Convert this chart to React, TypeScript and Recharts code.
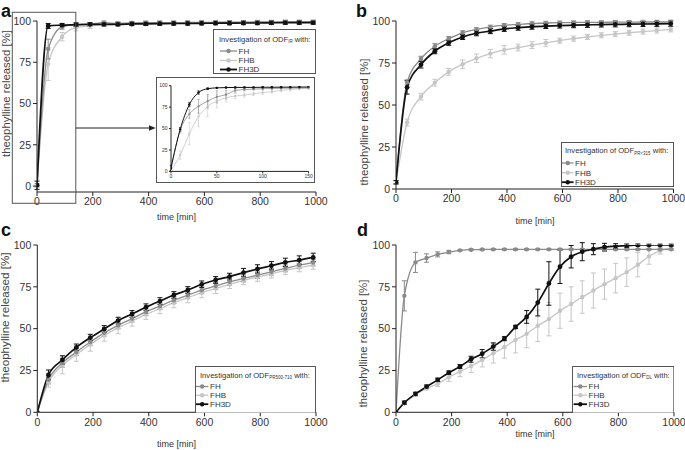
import React from 'react';
import { LineChart, Line, XAxis, YAxis, ErrorBar, Legend } from 'recharts';

const FONT = '"Liberation Sans", Arial, Helvetica, sans-serif';
const C_FH = '#8a8a8a';
const C_FHB = '#c6c6c6';
const C_3D = '#111111';

const xTicks = [0, 200, 400, 600, 800, 1000];
const yTicks = [0, 25, 50, 75, 100];
const insetXTicks = [0, 50, 100, 150];

// ---- Panel a (ODF IR) ----
const timesA = [0, 40, 90, 140, 190, 240, 290, 340, 390, 440, 490, 540, 590, 640, 690, 740, 790, 840, 890, 940, 990];
const aFH = [0.5, 83, 96.5, 97.8, 98, 99, 98.5, 98.8, 99, 99, 99, 99.1, 99.2, 99.2, 99.3, 99.3, 99.4, 99.4, 99.5, 99.5, 99.5];
const aFHe = [1, 6, 1.5, 1, 1, 1, 1, 1, 1, 1, 1, 1, 1, 1, 1, 1, 1, 1, 1, 1, 1];
const aFHB = [0.3, 74, 90.5, 96, 97, 98, 98.5, 98.5, 98.8, 99, 99, 99, 99, 99.1, 99.2, 99.2, 99.3, 99.3, 99.4, 99.4, 99.5];
const aFHBe = [0.5, 10, 2.5, 2, 1.5, 1, 1, 1, 1, 1, 1, 1, 1, 1, 1, 1, 1, 1, 1, 1, 1];
const aF3D = [0.5, 97, 97.5, 97.8, 98, 98, 98, 98.2, 98.3, 98.4, 98.5, 98.5, 98.6, 98.7, 98.7, 98.8, 98.8, 98.9, 99, 99, 99];
const aF3De = [2.5, 1.5, 1, 1, 1, 1, 1, 1, 1, 1, 1, 1, 1, 1, 1, 1, 1, 1, 1, 1, 1];

// ---- Inset of panel a (0-150 min) ----
const timesIn = [0, 10, 20, 30, 40, 50, 60, 70, 80, 90, 100, 110, 120, 130, 140, 150];
const iFH = [4, 48, 67, 76, 82, 87, 89.5, 94.5, 95.5, 96, 96.5, 96.8, 97, 97.2, 97.4, 97.6];
const iFHe = [3, 3, 5, 8, 8, 7, 5, 2, 1.5, 1, 1, 1, 1, 1, 1, 1];
const iFHB = [1, 19, 44, 64, 76, 82, 86, 88, 89, 90.5, 92, 93, 94.5, 95.5, 96.5, 97];
const iFHBe = [1, 5, 13, 12, 12, 8, 5, 3, 2.5, 2, 2, 1.5, 1.5, 1.5, 1, 1];
const iF3D = [4, 49, 78, 92, 96.5, 97.5, 97.8, 98, 98, 98, 98.2, 98.2, 98.3, 98.3, 98.4, 98.5];
const iF3De = [3, 2, 2.5, 2, 1, 0.5, 0.5, 0.5, 0.5, 0.5, 0.5, 0.5, 0.5, 0.5, 0.5, 0.5];

// ---- Panels b, c ----
const timesBC = [0, 40, 90, 140, 190, 240, 290, 340, 390, 440, 490, 540, 590, 640, 690, 740, 790, 840, 890, 940, 990];
const bFH = [4, 63.5, 77.5, 85, 89.5, 93, 95, 96.5, 97.5, 98, 98.5, 98.8, 99, 99.1, 99.2, 99.2, 99.3, 99.3, 99.4, 99.4, 99.5];
const bFHe = [1, 1.5, 1.5, 1.5, 1.2, 1.2, 1, 1, 1, 1, 1, 1, 1, 1, 1, 1, 1, 1, 1, 1, 1];
const bFHB = [4, 39.6, 55, 63.3, 69.7, 74.3, 77.8, 80.6, 82.8, 84.2, 85.6, 87, 88.3, 89.5, 90.5, 91.5, 92.2, 93, 93.7, 94.3, 95];
const bFHBe = [1, 2, 2, 2, 2, 2.5, 2.5, 2.5, 2.5, 2, 2, 2, 1.5, 1.5, 1.5, 1.5, 1.5, 1.5, 1.5, 1.5, 1.5];
const bF3D = [4, 60.5, 74, 82, 87, 90.5, 92.7, 94, 95.3, 96, 96.6, 97, 97.3, 97.5, 97.7, 97.9, 98, 98.1, 98.2, 98.3, 98.4];
const bF3De = [1, 4, 2, 1.5, 1.5, 1.5, 1.5, 1.5, 1.5, 1.5, 1.5, 1.5, 1.5, 1.5, 1.5, 1.5, 1.5, 1.5, 1.5, 1.5, 1.5];

const cFH = [0, 19.5, 29.5, 36, 42, 47.5, 52, 56, 60, 63.5, 67, 70, 73, 75.5, 78, 80, 82, 84, 86, 88, 89.5];
const cFHe = [0, 2.5, 2.5, 2, 2, 2, 2, 2, 2, 2, 2, 2, 2, 2, 2, 2, 2, 2, 2, 2, 2];
const cFHB = [0, 18, 28, 34.5, 40.5, 46, 50.5, 54.5, 58.5, 62, 65.5, 68.5, 71.5, 74, 76.5, 78.8, 80.8, 82.8, 84.8, 86.5, 88];
const cFHBe = [0, 3, 5, 4, 4, 3.5, 3.5, 3, 3, 3, 3, 3, 3, 3, 2.5, 2.5, 2.5, 2.5, 2.5, 2.5, 2.5];
const cF3D = [0, 22.3, 31.3, 38.8, 44.6, 49.8, 54.8, 58.8, 62.8, 66.5, 70.1, 73.1, 76.5, 79.1, 81.1, 83.5, 85.7, 87.6, 89.6, 91, 92.6];
const cF3De = [0, 3, 2.5, 2, 2, 2, 2, 2, 2, 2, 2, 2, 2, 2, 2, 2.5, 2.5, 2.5, 2.5, 2.5, 2.5];

// ---- Panel d (ODF DL) ----
const timesD = [0, 30, 70, 110, 150, 190, 230, 270, 310, 350, 390, 430, 470, 510, 550, 590, 630, 670, 710, 750, 790, 830, 870, 910, 950, 990];
const dFH = [0, 69.6, 89.6, 92.2, 94.4, 95.8, 96.8, 97.2, 97.3, 97.4, 97.4, 97.4, 97.4, 97.4, 97.4, 97.4, 97.4, 97.4, 97.4, 97.4, 97.4, 97.4, 97.4, 97.4, 97.4, 97.4];
const dFHe = [0, 9, 6, 2.5, 1.5, 1, 0.5, 0.5, 0.5, 0.5, 0.5, 0.5, 0.5, 0.5, 0.5, 0.5, 0.5, 0.5, 0.5, 0.5, 0.5, 0.5, 0.5, 0.5, 0.5, 0.5];
const dFHB = [0, 5.4, 10.4, 14.4, 17, 21, 24.3, 27.7, 31.3, 35.3, 38.9, 43.3, 46.9, 51.7, 55.7, 60.7, 64.7, 68.9, 72.8, 76.6, 80.2, 83.8, 88.2, 93.2, 96.6, 98.2];
const dFHBe = [0, 0.5, 1, 1, 1.5, 2.5, 3, 4, 4.2, 5.8, 6.5, 7.8, 8.3, 9.4, 10, 10.5, 10.3, 9.7, 10.5, 9, 8.8, 8.5, 7.2, 4.7, 2, 1];
const dF3D = [0, 5.7, 11, 15.3, 19.4, 23.7, 27.3, 31.7, 35, 39.3, 44, 51, 57, 65.6, 77, 87, 93, 96, 97.5, 98.7, 99.3, 99.6, 100, 100, 100, 100];
const dF3De = [0, 1, 1, 1, 1, 1, 1.2, 1.8, 2.5, 2.2, 1.2, 1, 3.8, 8, 13, 10, 6.7, 5.4, 3.3, 2.3, 1.5, 1, 0.6, 0.5, 0.5, 0.5];

function rows(times: number[], fh: number[], fhE: number[], fhb: number[], fhbE: number[], f3d: number[], f3dE: number[]) {
  return times.map((t, i) => ({
    t,
    FH: fh[i], FHe: fhE[i],
    FHB: fhb[i], FHBe: fhbE[i],
    FH3D: f3d[i], FH3De: f3dE[i],
  }));
}

const dataA = rows(timesA, aFH, aFHe, aFHB, aFHBe, aF3D, aF3De);
const dataIn = rows(timesIn, iFH, iFHe, iFHB, iFHBe, iF3D, iF3De);
const dataB = rows(timesBC, bFH, bFHe, bFHB, bFHBe, bF3D, bF3De);
const dataC = rows(timesBC, cFH, cFHe, cFHB, cFHBe, cF3D, cF3De);
const dataD = rows(timesD, dFH, dFHe, dFHB, dFHBe, dF3D, dF3De);

type LegendCfg = {
  left: number; top: number; w: number; h: number; sub: string;
  titleX: number; titleY: number; ys: number[]; lx1: number; lx2: number; tx: number;
};

function LegendBox({ cfg }: { cfg: LegendCfg }) {
  const entries = [
    { name: 'FH', color: C_FH, lw: 1.3 },
    { name: 'FHB', color: C_FHB, lw: 1.3 },
    { name: 'FH3D', color: C_3D, lw: 1.8 },
  ];
  return (
    <svg width={cfg.w} height={cfg.h} style={{ display: 'block', fontFamily: FONT }}>
      <rect x={0.5} y={0.5} width={cfg.w - 1} height={cfg.h - 1} fill="#fff" stroke="#555" strokeWidth={1} />
      <text x={cfg.titleX} y={cfg.titleY} fontSize={7.6} fill="#333">
        Investigation of ODF
        <tspan fontSize={4.5} dy={1.6}>{cfg.sub}</tspan>
        <tspan dy={-1.6}> with:</tspan>
      </text>
      {entries.map((e, i) => (
        <g key={e.name}>
          <line x1={cfg.lx1} x2={cfg.lx2} y1={cfg.ys[i]} y2={cfg.ys[i]} stroke={e.color} strokeWidth={e.lw} />
          <circle cx={(cfg.lx1 + cfg.lx2) / 2} cy={cfg.ys[i]} r={2.2} fill={e.color} />
          <text x={cfg.tx} y={cfg.ys[i] + 2.9} fontSize={8} fill="#333">{e.name}</text>
        </g>
      ))}
    </svg>
  );
}

type PanelProps = {
  left: number; top: number; width: number; height: number;
  margin: { top: number; right: number; bottom: number; left: number };
  yw: number; xh: number; data: any[];
  xDomain: [number, number]; yDomain: [number, number];
  xt: number[]; fontSize: number; tickSize: number; tickMargin: number;
  dotR: number; cap: number; lw: number; lw3d: number; ebw: number;
  legend?: LegendCfg; box?: boolean;
};

function Panel(p: PanelProps) {
  const tickStyle = { fontSize: p.fontSize, fill: '#333', fontFamily: FONT };
  const series = [
    { key: 'FHB', color: C_FHB, lw: p.lw },
    { key: 'FH', color: C_FH, lw: p.lw },
    { key: 'FH3D', color: C_3D, lw: p.lw3d },
  ];
  return (
    <div style={{
      position: 'absolute', left: p.left, top: p.top, width: p.width, height: p.height,
      background: p.box ? '#fff' : undefined,
      border: p.box ? '1px solid #555' : undefined,
      boxSizing: 'content-box',
    }}>
      <LineChart width={p.width} height={p.height} data={p.data} margin={p.margin}>
        <XAxis
          dataKey="t" type="number" domain={p.xDomain} ticks={p.xt} interval={0}
          allowDataOverflow height={p.xh} tick={tickStyle} tickSize={p.tickSize}
          tickMargin={p.tickMargin} stroke="#222" axisLine={{ stroke: '#222', strokeWidth: 1 }}
        />
        <YAxis
          type="number" domain={p.yDomain} ticks={yTicks} interval={0} allowDataOverflow
          width={p.yw} tick={tickStyle} tickSize={p.tickSize} tickMargin={p.tickMargin}
          stroke="#222" axisLine={{ stroke: '#222', strokeWidth: 1 }}
        />
        {series.map((s) => (
          <Line
            key={s.key} dataKey={s.key} type="monotone" stroke={s.color} strokeWidth={s.lw}
            dot={{ r: s.key === 'FH3D' ? p.dotR * 1.1 : p.dotR, fill: s.color, stroke: s.color, strokeWidth: 0 }}
            activeDot={false} isAnimationActive={false}
          >
            <ErrorBar dataKey={s.key + 'e'} width={p.cap} stroke={s.color} strokeWidth={p.ebw} direction="y" />
          </Line>
        ))}
        {p.legend && (
          <Legend
            layout="horizontal" verticalAlign="middle" align="center"
            wrapperStyle={{ position: 'absolute', left: p.legend.left, top: p.legend.top, width: p.legend.w, height: p.legend.h, margin: 0, padding: 0 }}
            content={() => <LegendBox cfg={p.legend as LegendCfg} />}
          />
        )}
      </LineChart>
    </div>
  );
}

const common = { fontSize: 10.5, tickSize: 4, tickMargin: 2, dotR: 2.2, cap: 2.5, lw: 1.3, lw3d: 1.7, ebw: 1, xt: xTicks, xDomain: [0, 1000] as [number, number] };

const yLabelStyle = { fontSize: 10, fill: '#444' };

export default function App() {
  return (
    <div style={{ position: 'absolute', left: 0, top: 0, width: 685, height: 450, background: '#fff', overflow: 'hidden', fontFamily: FONT }}>
      {/* Panel a */}
      <Panel
        {...common} left={0} top={0} width={330} height={230}
        margin={{ top: 21, right: 14, bottom: 8, left: 0 }} yw={37} xh={30}
        data={dataA} yDomain={[-3.6, 100]}
        legend={{ left: 213, top: 29, w: 103, h: 45, sub: 'IR', titleX: 6, titleY: 12.5, ys: [22, 31.5, 40.5], lx1: 7, lx2: 24, tx: 25.5 }}
      />
      {/* Panel b */}
      <Panel
        {...common} left={340} top={0} width={345} height={230}
        margin={{ top: 21, right: 11.5, bottom: 11, left: 0 }} yw={56} xh={30}
        data={dataB} yDomain={[0, 100]}
        legend={{ left: 221, top: 142, w: 113, h: 45, sub: 'PR<315', titleX: 4, titleY: 11, ys: [21, 30.7, 40.2], lx1: 1, lx2: 12.5, tx: 14 }}
      />
      {/* Panel c */}
      <Panel
        {...common} left={0} top={225} width={330} height={225}
        margin={{ top: 20, right: 14, bottom: 7.7, left: 0 }} yw={37.3} xh={30}
        data={dataC} yDomain={[0, 100]}
        legend={{ left: 195, top: 140.7, w: 121, h: 47.6, sub: 'PR500-710', titleX: 5, titleY: 11.5, ys: [20.5, 29.2, 38.2], lx1: 1, lx2: 13.3, tx: 15 }}
      />
      {/* Panel d */}
      <Panel
        {...common} left={340} top={225} width={345} height={225}
        margin={{ top: 20, right: 11, bottom: 7.7, left: 0 }} yw={56} xh={30}
        data={dataD} yDomain={[0, 100]}
        legend={{ left: 231.7, top: 140.7, w: 102.3, h: 47.6, sub: 'DL', titleX: 5, titleY: 11.5, ys: [20.5, 29.2, 38.2], lx1: 1.6, lx2: 15, tx: 16.6 }}
      />
      {/* Inset of panel a */}
      <Panel
        left={155.7} top={77.3} width={157.6} height={103.4} box
        margin={{ top: 7.7, right: 6, bottom: 2, left: 0 }} yw={14} xh={8}
        data={dataIn} xDomain={[0, 150]} yDomain={[0, 100]} xt={insetXTicks}
        fontSize={5} tickSize={2} tickMargin={1.5} dotR={1.1} cap={1.2} lw={0.8} lw3d={1} ebw={0.6}
      />
      {/* Annotations */}
      <svg width={685} height={450} style={{ position: 'absolute', left: 0, top: 0, pointerEvents: 'none', fontFamily: FONT }}>
        <text x={1} y={17} fontSize={18} fontWeight="bold" fill="#111">a</text>
        <text x={356} y={17} fontSize={18} fontWeight="bold" fill="#111">b</text>
        <text x={1} y={236} fontSize={18} fontWeight="bold" fill="#111">c</text>
        <text x={357} y={236} fontSize={18} fontWeight="bold" fill="#111">d</text>

        <text transform="translate(6.5,93.5) rotate(-90)" textAnchor="middle" dominantBaseline="central" textLength={127} lengthAdjust="spacingAndGlyphs" {...yLabelStyle}>theophylline released [%]</text>
        <text transform="translate(364.5,122) rotate(-90)" textAnchor="middle" dominantBaseline="central" textLength={127} lengthAdjust="spacingAndGlyphs" {...yLabelStyle}>theophylline released [%]</text>
        <text transform="translate(5.5,317.5) rotate(-90)" textAnchor="middle" dominantBaseline="central" textLength={130} lengthAdjust="spacingAndGlyphs" {...yLabelStyle}>theophylline released [%]</text>
        <text transform="translate(363.7,343.5) rotate(-90)" textAnchor="middle" dominantBaseline="central" textLength={128} lengthAdjust="spacingAndGlyphs" {...yLabelStyle}>theophylline released [%]</text>

        <text x={176.5} y={217} textAnchor="middle" dominantBaseline="central" fontSize={9} fill="#333">time [min]</text>
        <text x={535} y={221} textAnchor="middle" dominantBaseline="central" fontSize={9} fill="#333">time [min]</text>
        <text x={176.5} y={444} textAnchor="middle" dominantBaseline="central" fontSize={9} fill="#333">time [min]</text>
        <text x={535} y={434} textAnchor="middle" dominantBaseline="central" fontSize={9} fill="#333">time [min]</text>

        <rect x={12.3} y={12.3} width={63.5} height={191} fill="none" stroke="#555" strokeWidth={1} />
        <line x1={75.8} y1={128} x2={150} y2={128} stroke="#222" strokeWidth={1} />
        <polygon points="149,125.3 155.7,128 149,130.7" fill="#222" />
      </svg>
    </div>
  );
}
